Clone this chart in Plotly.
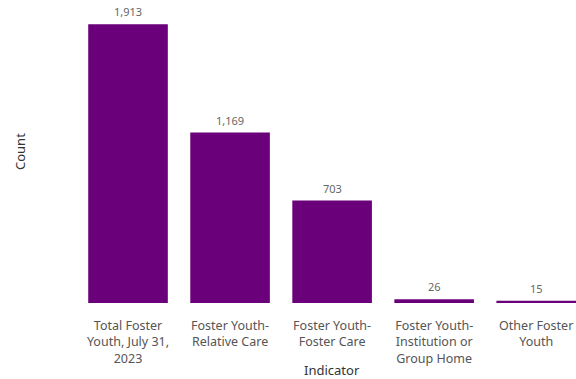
import plotly.graph_objects as go

# Foster youth counts by indicator
categories = [
    "Total Foster<br>Youth, July 31,<br>2023",
    "Foster Youth-<br>Relative Care",
    "Foster Youth-<br>Foster Care",
    "Foster Youth-<br>Institution or<br>Group Home",
    "Other Foster<br>Youth",
]
counts = [1913, 1169, 703, 26, 15]
count_labels = [f"{v:,}" for v in counts]

BAR_COLOR = "#6B007B"
FONT = "Noto Sans"

fig = go.Figure(
    go.Bar(
        x=categories,
        y=counts,
        marker=dict(color=BAR_COLOR, line=dict(width=0)),
        width=0.78,
        hoverinfo="skip",
    )
)

# value labels above each bar
for cat, v, lab in zip(categories, counts, count_labels):
    fig.add_annotation(
        x=cat, y=v, text=lab, showarrow=False,
        xref="x", yref="y", yanchor="bottom", yshift=3,
        font=dict(family=FONT, size=11, color="#666666"),
    )

# axis titles
fig.add_annotation(
    text="Indicator", x=332, y=370, xref="paper", yref="paper",
    showarrow=False, font=dict(family=FONT, size=13, color="#333333"),
)
fig.add_annotation(
    text="Count", textangle=-90, x=0, y=0, showarrow=False,
    font=dict(family=FONT, size=13, color="#333333"),
)

fig.update_layout(
    width=576, height=379,
    margin=dict(l=77, r=0, t=10, b=76),
    paper_bgcolor="white", plot_bgcolor="white",
    font=dict(family=FONT, size=12.5, color="#555555"),
    showlegend=False,
    xaxis=dict(
        range=[-0.5, 4.39], showgrid=False, zeroline=False, showline=False,
        ticks="outside", ticklen=11, tickcolor="rgba(0,0,0,0)",
        tickfont=dict(family=FONT, size=12.5, color="#555555"),
    ),
    yaxis=dict(
        range=[0, 2010], showgrid=False, zeroline=False, showline=False,
        showticklabels=False, ticks="",
    ),
)

# place axis-title annotations in pixel terms
pw = 576 - 77
ph = 379 - 10 - 76
fig.layout.annotations[-2].update(x=(332 - 77) / pw, y=(303 - 370) / ph, yanchor="middle")
fig.layout.annotations[-1].update(x=(20 - 77) / pw, xref="paper", yref="paper",
                                  y=(303 - 152) / ph, xanchor="center", yanchor="middle")

fig.write_html("out.html")
